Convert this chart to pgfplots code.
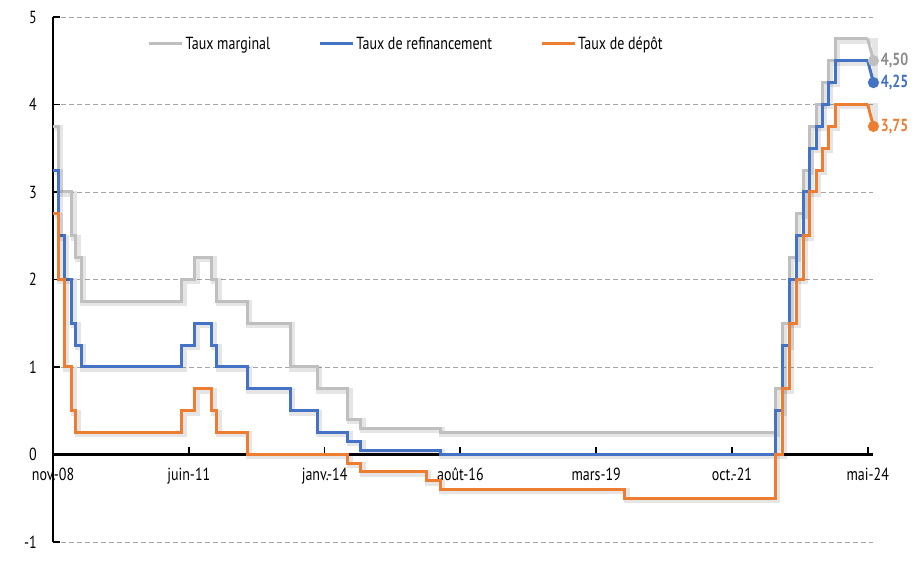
\documentclass[border=0pt]{standalone}
\usepackage{fontspec}
\setmainfont{PT Sans}[FakeStretch=0.8]
\usepackage{pgfplots}
\usepackage{pgfplotstable}
\pgfplotsset{compat=1.18}
\definecolor{marg}{HTML}{BFBFBF}
\definecolor{refi}{HTML}{4472C4}
\definecolor{depo}{HTML}{ED7D31}
\definecolor{margtxt}{HTML}{8C8C8C}
\definecolor{gridc}{HTML}{A6A6A6}

% x = months since nov. 2008
\pgfplotstableread{
x y
0 3.75
1.3 3.00
4.33 2.50
5.23 2.25
6.4 1.75
29.4 2.00
32.4 2.25
36.27 2.00
37.43 1.75
44.33 1.50
54.23 1.00
60.4 0.75
67.33 0.40
70.3 0.30
88.5 0.25
164.87 0.75
166.43 1.50
168.03 2.25
169.67 2.75
171.23 3.25
172.7 3.75
174.3 4.00
175.67 4.25
177.03 4.50
178.63 4.75
186 4.75
}\margtab
\pgfplotstableread{
x y
0 3.25
1.3 2.50
2.67 2.00
4.33 1.50
5.23 1.25
6.4 1.00
29.4 1.25
32.4 1.50
36.27 1.25
37.43 1.00
44.33 0.75
54.23 0.50
60.4 0.25
67.33 0.15
70.3 0.05
88.5 0.00
164.87 0.50
166.43 1.25
168.03 2.00
169.67 2.50
171.23 3.00
172.7 3.50
174.3 3.75
175.67 4.00
177.03 4.25
178.63 4.50
186 4.50
}\refitab
\pgfplotstableread{
x y
0 2.75
1.3 2.00
2.67 1.00
4.33 0.50
5.23 0.25
29.4 0.50
32.4 0.75
36.27 0.50
37.43 0.25
44.33 0.00
67.33 -0.10
70.3 -0.20
85.27 -0.30
88.5 -0.40
130.57 -0.50
164.87 0.00
166.43 0.75
168.03 1.50
169.67 2.00
171.23 2.50
172.7 3.00
174.3 3.25
175.67 3.50
177.03 3.75
178.63 4.00
186 4.00
}\depotab

\pgfplotsset{
  shadow/.style={forget plot, black, draw opacity=0.10, line width=6pt,
    xshift=1.8pt, yshift=-1.8pt},
  serie/.style={#1, line width=3pt},
}
\tikzset{
  lbl/.style={right, font=\fontsize{17.5}{20}\selectfont\bfseries, inner sep=0pt, xshift=6pt},
}

\begin{document}
\begin{tikzpicture}
\begin{axis}[
  scale only axis, width=820pt, height=525pt,
  xmin=0, xmax=187.2, ymin=-1, ymax=5,
  clip=false,
  axis x line*=middle, axis y line*=left,
  axis line style={line width=2.2pt, black, -},
  hide obscured x ticks=false, hide obscured y ticks=false,
  xtick={0,31,62,93,124,155,186},
  xticklabels={nov.-08,juin-11,janv.-14,août-16,mars-19,oct.-21,mai-24},
  ytick={-1,0,...,5}, yticklabels={-1,0,1,2,3,4,5},
  tick align=inside, major tick length=7pt,
  tick style={line width=1.8pt, black},
  ymajorgrids, grid style={dash pattern=on 5pt off 3pt, gridc, line width=0.8pt},
  tick label style={font=\fontsize{17.5}{20}\selectfont},
  x tick label style={inner sep=0pt, anchor=north, yshift=-13pt},
  y tick label style={inner sep=0pt, anchor=east, xshift=-16pt},
  legend columns=3,
  legend style={draw=none, fill=none, at={(rel axis cs:0.115,0.949)}, anchor=west,
    font=\fontsize{17.5}{20}\selectfont, inner sep=0pt, nodes={inner sep=2pt},
    /tikz/every even column/.append style={column sep=46pt}},
  legend image code/.code={\draw[#1] (0pt,0pt) -- (33pt,0pt);},
]
\addplot[const plot, shadow] table {\margtab};
\addplot[const plot, shadow] coordinates {(186,4.75) (187.3,4.50)};
\addplot[const plot, serie=marg] table {\margtab};
\addlegendentry{Taux marginal}
\addplot[serie=marg, mark=*, mark indices={2}, mark size=4pt, forget plot]
  coordinates {(186,4.75) (187.3,4.50)} node[pos=1, lbl, margtxt] {4,50};

\addplot[const plot, shadow] table {\refitab};
\addplot[const plot, shadow] coordinates {(186,4.50) (187.3,4.25)};
\addplot[const plot, serie=refi] table {\refitab};
\addlegendentry{Taux de refinancement}
\addplot[serie=refi, mark=*, mark indices={2}, mark size=4pt, forget plot]
  coordinates {(186,4.50) (187.3,4.25)} node[pos=1, lbl, refi] {4,25};

\addplot[const plot, shadow] table {\depotab};
\addplot[const plot, shadow] coordinates {(186,4.00) (187.3,3.75)};
\addplot[const plot, serie=depo] table {\depotab};
\addlegendentry{Taux de dépôt}
\addplot[serie=depo, mark=*, mark indices={2}, mark size=4pt, forget plot]
  coordinates {(186,4.00) (187.3,3.75)} node[pos=1, lbl, depo] {3,75};
\end{axis}
\pgfresetboundingbox
\path[use as bounding box] ([xshift=-53pt,yshift=-25pt]current axis.south west)
  rectangle ([xshift=45pt,yshift=17pt]current axis.north east);
\end{tikzpicture}
\end{document}
